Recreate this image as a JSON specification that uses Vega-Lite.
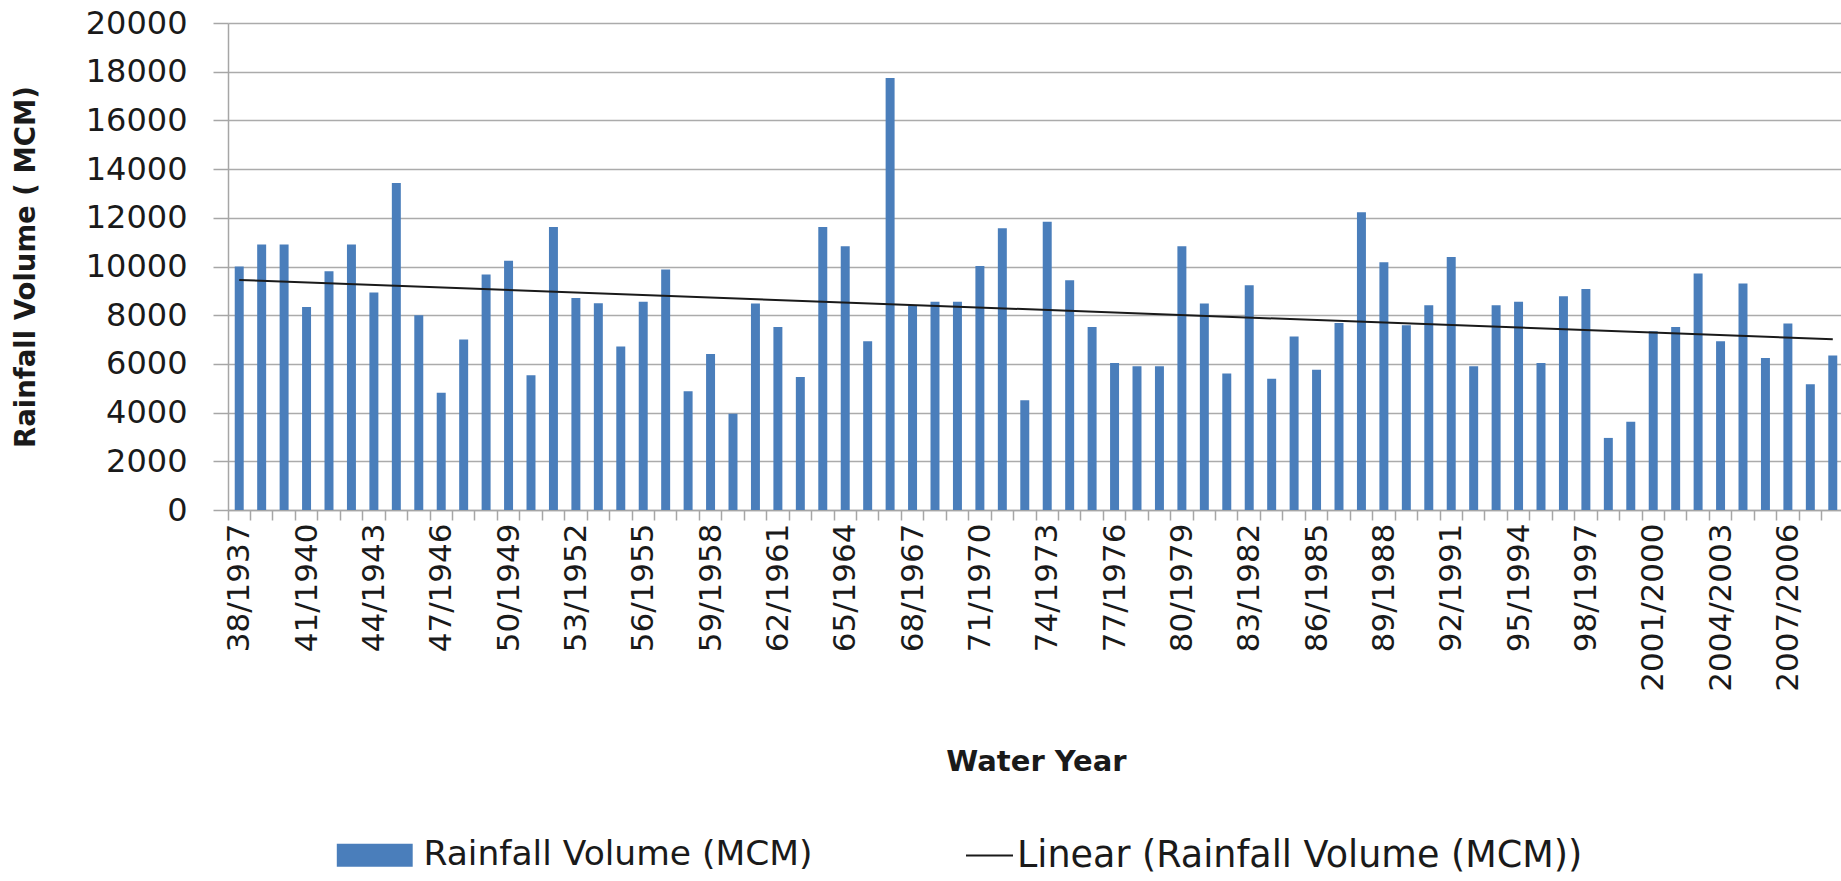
{
  "$schema": "https://vega.github.io/schema/vega-lite/v6.json",
  "autosize": {"type": "none"},
  "padding": {"left": 228, "top": 23, "right": 0, "bottom": 371},
  "width": 1616,
  "height": 487,
  "background": "white",
  "config": {
    "view": {"stroke": null},
    "font": "DejaVu Sans",
    "axis": {"labelColor": "#1a1a1a", "titleColor": "#1a1a1a"}
  },
  "datasets": {
    "bars": [
      {"year": "38/1937", "rainfall": 10000},
      {"year": "39/1938", "rainfall": 10900},
      {"year": "40/1939", "rainfall": 10900},
      {"year": "41/1940", "rainfall": 8340},
      {"year": "42/1941", "rainfall": 9810},
      {"year": "43/1942", "rainfall": 10900},
      {"year": "44/1943", "rainfall": 8930},
      {"year": "45/1944", "rainfall": 13430},
      {"year": "46/1945", "rainfall": 8000},
      {"year": "47/1946", "rainfall": 4820},
      {"year": "48/1947", "rainfall": 7000},
      {"year": "49/1948", "rainfall": 9670},
      {"year": "50/1949", "rainfall": 10240},
      {"year": "51/1950", "rainfall": 5530},
      {"year": "52/1951", "rainfall": 11620},
      {"year": "53/1952", "rainfall": 8710},
      {"year": "54/1953", "rainfall": 8490},
      {"year": "55/1954", "rainfall": 6710},
      {"year": "56/1955", "rainfall": 8550},
      {"year": "57/1956", "rainfall": 9880},
      {"year": "58/1957", "rainfall": 4880},
      {"year": "59/1958", "rainfall": 6410},
      {"year": "60/1959", "rainfall": 3950},
      {"year": "61/1960", "rainfall": 8480},
      {"year": "62/1961", "rainfall": 7520},
      {"year": "63/1962", "rainfall": 5460},
      {"year": "64/1963", "rainfall": 11620},
      {"year": "65/1964", "rainfall": 10830},
      {"year": "66/1965", "rainfall": 6930},
      {"year": "67/1966", "rainfall": 17740},
      {"year": "68/1967", "rainfall": 8400},
      {"year": "69/1968", "rainfall": 8550},
      {"year": "70/1969", "rainfall": 8550},
      {"year": "71/1970", "rainfall": 10020},
      {"year": "72/1971", "rainfall": 11570},
      {"year": "73/1972", "rainfall": 4510},
      {"year": "74/1973", "rainfall": 11840},
      {"year": "75/1974", "rainfall": 9440},
      {"year": "76/1975", "rainfall": 7520},
      {"year": "77/1976", "rainfall": 6040},
      {"year": "78/1977", "rainfall": 5900},
      {"year": "79/1978", "rainfall": 5900},
      {"year": "80/1979", "rainfall": 10830},
      {"year": "81/1980", "rainfall": 8480},
      {"year": "82/1981", "rainfall": 5610},
      {"year": "83/1982", "rainfall": 9230},
      {"year": "84/1983", "rainfall": 5390},
      {"year": "85/1984", "rainfall": 7130},
      {"year": "86/1985", "rainfall": 5760},
      {"year": "87/1986", "rainfall": 7680},
      {"year": "88/1987", "rainfall": 12230},
      {"year": "89/1988", "rainfall": 10170},
      {"year": "90/1989", "rainfall": 7590},
      {"year": "91/1990", "rainfall": 8410},
      {"year": "92/1991", "rainfall": 10390},
      {"year": "93/1992", "rainfall": 5900},
      {"year": "94/1993", "rainfall": 8410},
      {"year": "95/1994", "rainfall": 8550},
      {"year": "96/1995", "rainfall": 6040},
      {"year": "97/1996", "rainfall": 8780},
      {"year": "98/1997", "rainfall": 9080},
      {"year": "99/1998", "rainfall": 2960},
      {"year": "2000/1999", "rainfall": 3620},
      {"year": "2001/2000", "rainfall": 7340},
      {"year": "2002/2001", "rainfall": 7520},
      {"year": "2003/2002", "rainfall": 9710},
      {"year": "2004/2003", "rainfall": 6930},
      {"year": "2005/2004", "rainfall": 9300},
      {"year": "2006/2005", "rainfall": 6240},
      {"year": "2007/2006", "rainfall": 7660},
      {"year": "2008/2007", "rainfall": 5160},
      {"year": "2009/2008", "rainfall": 6340}
    ],
    "trend": [
      {"year": "38/1937", "trend": 9450},
      {"year": "2009/2008", "trend": 7010}
    ]
  },
  "layer": [
    {
      "data": {"name": "bars"},
      "mark": {"type": "bar", "width": {"band": 0.4}},
      "encoding": {
        "x": {
          "field": "year",
          "type": "nominal",
          "sort": null,
          "scale": {"paddingInner": 0, "paddingOuter": 0},
          "axis": {
            "title": "Water Year",
            "titleFontSize": 29,
            "titleFontWeight": "bold",
            "titleX": 808,
            "titleY": 251,
            "titleAlign": "center",
            "titleBaseline": "middle",
            "bandPosition": 0,
            "labelOffset": 1,
            "labelAngle": -90,
            "labelFontSize": 31,
            "labelPadding": 3,
            "labelOverlap": false,
            "labelLimit": 0,
            "labelBound": false,
            "labelExpr": "indexof(['38/1937','41/1940','44/1943','47/1946','50/1949','53/1952','56/1955','59/1958','62/1961','65/1964','68/1967','71/1970','74/1973','77/1976','80/1979','83/1982','86/1985','89/1988','92/1991','95/1994','98/1997','2001/2000','2004/2003','2007/2006'], datum.value) >= 0 ? datum.value : ''",
            "tickSize": 10,
            "tickColor": "#a6a6a6",
            "tickWidth": 1.5,
            "domainColor": "#a6a6a6",
            "domainWidth": 1.5,
            "grid": false
          }
        },
        "y": {
          "field": "rainfall",
          "type": "quantitative",
          "scale": {"domain": [0, 20000], "nice": false},
          "axis": {
            "title": "Rainfall Volume ( MCM)",
            "titleFontSize": 27.5,
            "titleFontWeight": "bold",
            "titleX": -202,
            "titleY": 243.5,
            "titleAngle": -90,
            "titleAlign": "center",
            "titleBaseline": "middle",
            "values": [0, 2000, 4000, 6000, 8000, 10000, 12000, 14000, 16000, 18000, 20000],
            "format": "d",
            "labelFontSize": 32,
            "labelPadding": 26,
            "tickSize": 15,
            "tickColor": "#a6a6a6",
            "tickWidth": 1.5,
            "domainColor": "#a6a6a6",
            "domainWidth": 1.5,
            "gridColor": "#ababab",
            "gridWidth": 1.5
          }
        },
        "color": {
          "datum": "Rainfall Volume (MCM)",
          "scale": {"range": ["#4A7EBB"]},
          "legend": {
            "title": null,
            "orient": "none",
            "legendX": 129.5,
            "legendY": 815,
            "padding": 0,
            "symbolType": "M-3.3,-1H3.3V1H-3.3Z",
            "symbolSize": 529,
            "symbolStrokeWidth": 0,
            "labelFontSize": 34.5,
            "labelOffset": 31.5,
            "labelLimit": 0,
            "labelColor": "#1a1a1a"
          }
        }
      }
    },
    {
      "data": {"name": "trend"},
      "mark": {"type": "line", "strokeWidth": 2},
      "encoding": {
        "x": {"field": "year", "type": "nominal", "sort": null},
        "y": {"field": "trend", "type": "quantitative"},
        "stroke": {
          "datum": "Linear (Rainfall Volume (MCM))",
          "scale": {"range": ["#1a1a1a"]},
          "legend": {
            "title": null,
            "orient": "none",
            "legendX": 737,
            "legendY": 808,
            "padding": 0,
            "symbolType": "stroke",
            "symbolSize": 2209,
            "symbolStrokeWidth": 2,
            "labelFontSize": 36.5,
            "labelOffset": 3,
            "labelLimit": 0,
            "labelColor": "#1a1a1a"
          }
        }
      }
    }
  ]
}
